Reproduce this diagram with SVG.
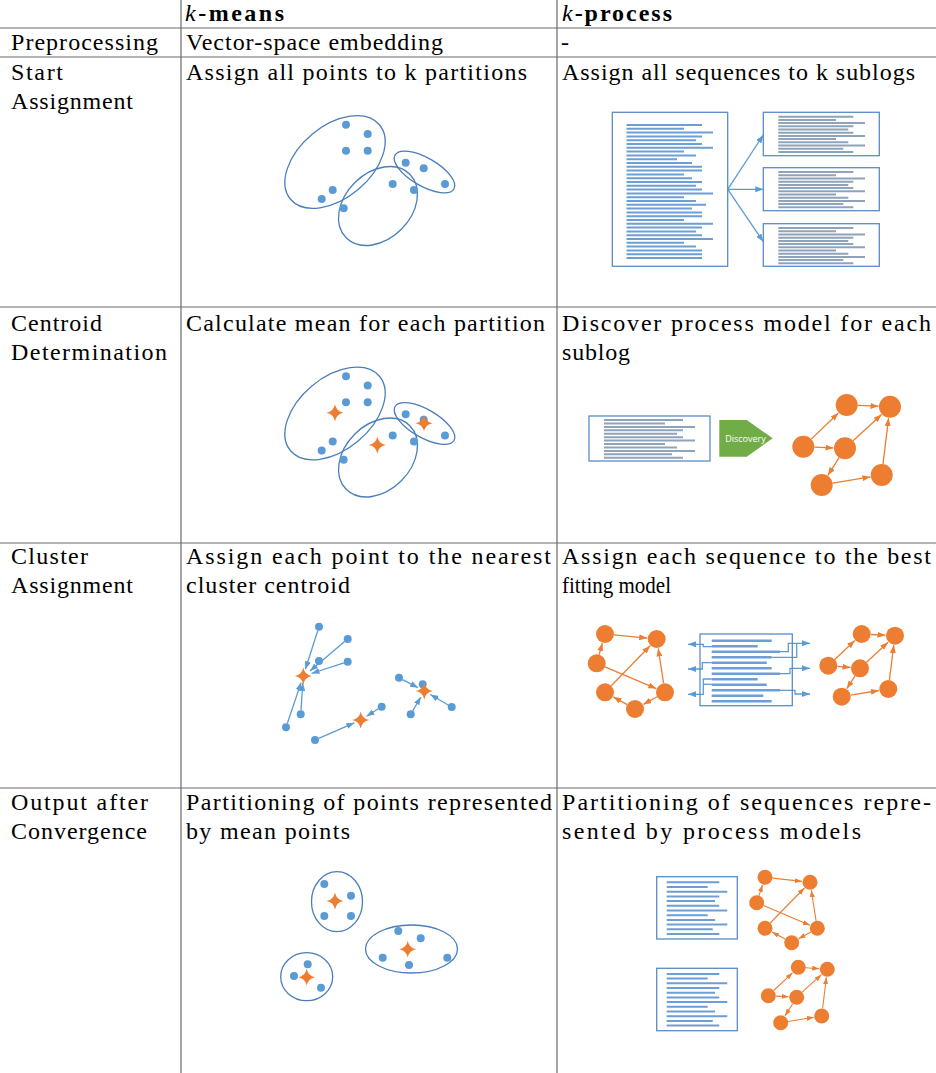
<svg xmlns="http://www.w3.org/2000/svg" xmlns:xlink="http://www.w3.org/1999/xlink" width="936" height="1073" viewBox="0 0 936 1073">
<style>
.t{font-family:"Liberation Serif","DejaVu Serif",serif;font-size:24px;fill:#000}
.grid{stroke:#6a6a6a;stroke-width:1.2;fill:none}
.dot{fill:#5B9BD5}
.ell{fill:none;stroke:#4A7EBB;stroke-width:1.3}
.star{fill:#ED7D31}
.node{fill:#ED7D31}
.oe{stroke:#ED7D31;stroke-width:1.3;fill:none;marker-end:url(#ao)}
.oes{stroke:#ED7D31;stroke-width:1.1;fill:none;marker-end:url(#aos)}
.be{stroke:#5B9BD5;stroke-width:1.3;fill:none;marker-end:url(#ab)}
.doc{fill:none;stroke:#5B8CC8;stroke-width:1.3}
.lb{stroke:#6C9FD6;stroke-width:2;fill:none}
.lg{stroke:#8FA3BA;stroke-width:2;fill:none}
.lt{stroke:#6C9FD6;stroke-width:2.6;fill:none}
</style>
<defs>
<marker id="ao" markerWidth="8" markerHeight="6" refX="8" refY="3" orient="auto" markerUnits="userSpaceOnUse"><path d="M0,0 L8,3 L0,6 z" fill="#ED7D31"/></marker>
<marker id="aos" markerWidth="7" markerHeight="5" refX="7" refY="2.5" orient="auto" markerUnits="userSpaceOnUse"><path d="M0,0 L7,2.5 L0,5 z" fill="#ED7D31"/></marker>
<marker id="ab" markerWidth="8" markerHeight="6" refX="8" refY="3" orient="auto" markerUnits="userSpaceOnUse"><path d="M0,0 L8,3 L0,6 z" fill="#5B9BD5"/></marker>
<path id="star" class="star" d="M0,-8.5 Q1.3,-1.3 8.5,0 Q1.3,1.3 0,8.5 Q-1.3,1.3 -8.5,0 Q-1.3,-1.3 0,-8.5Z"/>
<g id="kmBase">
<ellipse class="ell" cx="335" cy="162" rx="58" ry="36" transform="rotate(-40 335 162)"/>
<ellipse class="ell" cx="378" cy="206" rx="45" ry="33" transform="rotate(-45 378 206)"/>
<ellipse class="ell" cx="424.5" cy="172" rx="34" ry="14" transform="rotate(30 424.5 172)"/>
<circle class="dot" cx="346" cy="124.7" r="4"/>
<circle class="dot" cx="367.7" cy="134" r="4"/>
<circle class="dot" cx="346" cy="150.7" r="4"/>
<circle class="dot" cx="367.7" cy="150.7" r="4"/>
<circle class="dot" cx="332.7" cy="190" r="4"/>
<circle class="dot" cx="321.7" cy="199" r="4"/>
<circle class="dot" cx="343.7" cy="208.3" r="4"/>
<circle class="dot" cx="392.7" cy="184" r="4"/>
<circle class="dot" cx="414" cy="190" r="4"/>
<circle class="dot" cx="405.7" cy="162.7" r="4"/>
<circle class="dot" cx="423.7" cy="168.3" r="4"/>
<circle class="dot" cx="445" cy="184" r="4"/>
</g>
<path id="subLines" class="lg" d="M15 4.4H90M15 7.6H72.7M15 10.8H101.7M15 14H90M15 17.2H85M15 20.4H90M15 23.6H101.7M15 26.8H72.7M15 30H85M15 33.2H101.7M15 36.4H80M15 39.6H90"/>
<path id="outLines" class="lb" d="M666.7 882.3H719.3M666.7 887H707.7M666.7 891.7H727.3M666.7 896.4H719.3M666.7 901.1H715M666.7 905.8H719.3M666.7 910.5H727.3M666.7 915.2H707.7M666.7 919.9H715M666.7 924.6H727.3M666.7 929.3H712.7M666.7 934H719.3"/>
</defs>

<g id="table">
<line class="grid" x1="0" y1="28" x2="936" y2="28"/>
<line class="grid" x1="0" y1="57" x2="936" y2="57"/>
<line class="grid" x1="0" y1="307" x2="936" y2="307"/>
<line class="grid" x1="0" y1="543" x2="936" y2="543"/>
<line class="grid" x1="0" y1="788" x2="936" y2="788"/>
<line class="grid" x1="181" y1="0" x2="181" y2="1073"/>
<line class="grid" x1="557" y1="0" x2="557" y2="1073"/>
</g>

<g id="texts">
<text class="t" x="185" y="21" textLength="99" lengthAdjust="spacing"><tspan font-style="italic">k</tspan><tspan font-weight="bold">-means</tspan></text>
<text class="t" x="562" y="21" textLength="110" lengthAdjust="spacing"><tspan font-style="italic">k</tspan><tspan font-weight="bold">-process</tspan></text>
<text class="t" x="11" y="50" textLength="147" lengthAdjust="spacing">Preprocessing</text>
<text class="t" x="186" y="50" textLength="257" lengthAdjust="spacing">Vector-space embedding</text>
<text class="t" x="561" y="50">-</text>
<text class="t" x="11" y="80" textLength="52" lengthAdjust="spacing">Start</text>
<text class="t" x="11" y="109" textLength="122" lengthAdjust="spacing">Assignment</text>
<text class="t" x="186" y="80" textLength="341" lengthAdjust="spacing">Assign all points to k partitions</text>
<text class="t" x="562" y="80" textLength="353" lengthAdjust="spacing">Assign all sequences to k sublogs</text>
<text class="t" x="11" y="331" textLength="91" lengthAdjust="spacing">Centroid</text>
<text class="t" x="11" y="360" textLength="156" lengthAdjust="spacing">Determination</text>
<text class="t" x="186" y="331" textLength="359" lengthAdjust="spacing">Calculate mean for each partition</text>
<text class="t" x="562" y="331" textLength="369" lengthAdjust="spacing">Discover process model for each</text>
<text class="t" x="562" y="360" textLength="68" lengthAdjust="spacing">sublog</text>
<text class="t" x="11" y="564" textLength="77" lengthAdjust="spacing">Cluster</text>
<text class="t" x="11" y="593" textLength="122" lengthAdjust="spacing">Assignment</text>
<text class="t" x="186" y="564" textLength="365" lengthAdjust="spacing">Assign each point to the nearest</text>
<text class="t" x="186" y="593" textLength="164" lengthAdjust="spacing">cluster centroid</text>
<text class="t" x="562" y="564" textLength="369" lengthAdjust="spacing">Assign each sequence to the best</text>
<text class="t" x="562" y="593" textLength="109" lengthAdjust="spacingAndGlyphs">fitting model</text>
<text class="t" x="11" y="810" textLength="137" lengthAdjust="spacing">Output after</text>
<text class="t" x="11" y="839" textLength="136" lengthAdjust="spacing">Convergence</text>
<text class="t" x="186" y="810" textLength="366" lengthAdjust="spacing">Partitioning of points represented</text>
<text class="t" x="186" y="839" textLength="164" lengthAdjust="spacing">by mean points</text>
<text class="t" x="562" y="810" textLength="369" lengthAdjust="spacing">Partitioning of sequences repre-</text>
<text class="t" x="562" y="839" textLength="299" lengthAdjust="spacing">sented by process models</text>
</g>

<g id="connectors">
<path class="be" d="M727.7 189.3L763.3 135"/>
<path class="be" d="M727.7 189.3L763.3 189.3"/>
<path class="be" d="M727.7 189.3L763.3 241.7"/>
<path class="oe" d="M811.2 439.1L838.4 413"/>
<path class="oe" d="M857.7 405.4L878.5 406.2"/>
<path class="oe" d="M814.3 447.1L833.5 447.9"/>
<path class="oe" d="M853.1 440.8L881.6 414.5"/>
<path class="oe" d="M839.1 457.6L827.9 475.3"/>
<path class="oe" d="M832.6 483.2L870.4 476.9"/>
<path class="oe" d="M883 464.1L888.6 418.1"/>
<path class="be" d="M317.8 630.5L305.4 669.3"/>
<path class="be" d="M344.6 641.6L310 671"/>
<path class="be" d="M343.9 662.9L311.5 673.5"/>
<path class="be" d="M287.3 723.5L301.1 682.6"/>
<path class="be" d="M301 710.3L302.8 683"/>
<path class="be" d="M318.7 738.4L354.3 722.8"/>
<path class="be" d="M378.3 708.8L366.6 716.3"/>
<path class="be" d="M402.5 679.6L418.1 687.7"/>
<path class="be" d="M412.7 710.8L420.8 697"/>
<path class="be" d="M448.2 705L430.3 694.5"/>
<path class="oe" d="M614 634.9L647.2 638.1"/>
<path class="oe" d="M599.1 654.7L602.4 643.1"/>
<path class="oe" d="M605 666.8L656.3 688.6"/>
<path class="oe" d="M611.3 685.8L650.1 645.8"/>
<path class="oe" d="M663.6 683.4L658.2 648.4"/>
<path class="oe" d="M657.1 696.7L643.3 704.4"/>
<path class="oe" d="M627.1 704.6L613.3 696.9"/>
<path class="oe" d="M834.8 659.5L854.8 640.5"/>
<path class="oe" d="M870.7 634.5L885.5 635.2"/>
<path class="oe" d="M837.3 666.4L850.5 667.5"/>
<path class="oe" d="M866.6 662.2L888 642.2"/>
<path class="oe" d="M855.1 675.9L846.8 688.7"/>
<path class="oe" d="M850.6 695.2L878.9 690.5"/>
<path class="oe" d="M889.4 680.1L893.8 645.1"/>
<path class="be" d="M711.7 646.7H703.3V644.3H688"/>
<path class="be" d="M711.7 662.7H702.3V669H688"/>
<path class="be" d="M711.7 679H703.3V694.3H688"/>
<path class="be" d="M711.7 684.3H703.3" style="marker-end:none"/>
<path class="be" d="M780 651.7H788.3V643.3H810"/>
<path class="be" d="M771.7 657.3H796.7V643.3" style="marker-end:none"/>
<path class="be" d="M780 673.7H790V668.3H810"/>
<path class="be" d="M780 690.3H795V694H810"/>
<path class="oes" d="M772.5 878.1L802 881.4"/>
<path class="oes" d="M759 895.6L762.5 884.9"/>
<path class="oes" d="M763.6 905.6L809.9 925.2"/>
<path class="oes" d="M770.2 923L804.4 888"/>
<path class="oes" d="M816.1 920.9L811.3 890.2"/>
<path class="oes" d="M810.8 932L798.6 938.8"/>
<path class="oes" d="M785.1 939.1L772 932.1"/>
<path class="oes" d="M773.7 990.5L792.5 972.8"/>
<path class="oes" d="M805.8 967.8L819.3 968.7"/>
<path class="oes" d="M775.8 996.1L788.7 996.8"/>
<path class="oes" d="M802.2 992.2L821.4 974.7"/>
<path class="oes" d="M792.7 1003.7L785 1015.9"/>
<path class="oes" d="M788.1 1021.5L813.8 1017.3"/>
<path class="oes" d="M822.6 1008.5L826.4 977.3"/>
</g>

<g id="km-start"><use xlink:href="#kmBase"/></g>

<g id="km-centroid">
<use xlink:href="#kmBase" y="251.5"/>
<use xlink:href="#star" x="335" y="412.7"/>
<use xlink:href="#star" x="377.3" y="445"/>
<use xlink:href="#star" x="424" y="423.3"/>
</g>

<g id="km-cluster">
<circle class="dot" cx="319" cy="626.7" r="4"/>
<circle class="dot" cx="347.7" cy="639" r="4"/>
<circle class="dot" cx="319" cy="661" r="4"/>
<circle class="dot" cx="347.7" cy="661.7" r="4"/>
<circle class="dot" cx="300.7" cy="714.3" r="4"/>
<circle class="dot" cx="286" cy="727.3" r="4"/>
<circle class="dot" cx="315" cy="740" r="4"/>
<circle class="dot" cx="399" cy="677.7" r="4"/>
<circle class="dot" cx="422.7" cy="684.3" r="4"/>
<circle class="dot" cx="451.7" cy="707" r="4"/>
<circle class="dot" cx="410.7" cy="714.3" r="4"/>
<circle class="dot" cx="381.7" cy="706.7" r="4"/>
<use xlink:href="#star" x="303.3" y="676"/>
<use xlink:href="#star" x="360.7" y="720"/>
<use xlink:href="#star" x="424.3" y="691"/>
</g>

<g id="km-output">
<ellipse class="ell" cx="337" cy="901.7" rx="25.5" ry="30"/>
<ellipse class="ell" cx="411.5" cy="949" rx="46" ry="24"/>
<ellipse class="ell" cx="306.7" cy="976.7" rx="26" ry="24"/>
<circle class="dot" cx="324.3" cy="884" r="4"/>
<circle class="dot" cx="351" cy="895.7" r="4"/>
<circle class="dot" cx="324.3" cy="916" r="4"/>
<circle class="dot" cx="351" cy="916" r="4"/>
<use xlink:href="#star" x="335" y="901"/>
<circle class="dot" cx="398.3" cy="931" r="4"/>
<circle class="dot" cx="420.7" cy="938.3" r="4"/>
<circle class="dot" cx="382.7" cy="957.7" r="4"/>
<circle class="dot" cx="409" cy="965" r="4"/>
<circle class="dot" cx="447.3" cy="957.7" r="4"/>
<use xlink:href="#star" x="407.7" y="949.3"/>
<circle class="dot" cx="307.7" cy="964.3" r="4"/>
<circle class="dot" cx="294" cy="976" r="4"/>
<circle class="dot" cx="321" cy="987.7" r="4"/>
<use xlink:href="#star" x="306.7" y="977.3"/>
</g>

<g id="kp-log">
<rect class="doc" x="612.3" y="112.3" width="115.4" height="154"/>
<path class="lb" d="M626.5 125H702M626.5 128.8H684M626.5 132.6H713M626.5 136.4H702M626.5 140.2H696M626.5 144H702M626.5 147.8H713M626.5 151.6H684M626.5 155.4H696M626.5 159.2H677M626.5 163H692M626.5 166.8H702M626.5 170.6H702M626.5 174.4H684M626.5 178.2H692M626.5 182H702M626.5 185.8H696M626.5 189.6H702M626.5 193.4H713M626.5 197.2H684M626.5 201H696M626.5 204.8H706M626.5 208.6H692M626.5 212.4H702M626.5 216.2H702M626.5 220H684M626.5 223.8H713M626.5 227.6H702M626.5 231.4H696M626.5 235.2H702M626.5 239H713M626.5 242.8H684M626.5 246.6H696M626.5 250.4H702M626.5 254.2H702M626.5 258H702"/>
</g>
<g id="kp-sublog1" transform="translate(763.3 112.3)"><rect class="doc" width="116" height="43.4"/><use xlink:href="#subLines"/></g>
<g id="kp-sublog2" transform="translate(763.3 167.7)"><rect class="doc" width="116" height="43"/><use xlink:href="#subLines"/></g>
<g id="kp-sublog3" transform="translate(763.3 223.7)"><rect class="doc" width="116" height="42.6"/><use xlink:href="#subLines"/></g>

<g id="kp-disc-log">
<rect class="doc" x="589" y="416" width="121" height="45"/>
<path class="lg" d="M604 420H683M604 423.4H665M604 426.9H695M604 430.3H683M604 433.7H677M604 437.2H683M604 440.6H695M604 444H665M604 447.4H677M604 450.9H695M604 454.3H672M604 457.7H683"/>
</g>
<g id="kp-discovery">
<polygon points="719.3,420 746.7,420 772.7,438.3 746.7,456.7 719.3,456.7" fill="#70AD47"/>
<text x="745.5" y="441.8" text-anchor="middle" font-family="'Open Sans','Liberation Sans',sans-serif" font-size="9" fill="#fff">Discovery</text>
</g>
<g id="kp-disc-model">
<circle class="node" cx="846.7" cy="405" r="11"/>
<circle class="node" cx="890" cy="406.7" r="11"/>
<circle class="node" cx="803.3" cy="446.7" r="11"/>
<circle class="node" cx="845" cy="448.3" r="11"/>
<circle class="node" cx="821.7" cy="485" r="11"/>
<circle class="node" cx="881.7" cy="475" r="11"/>
</g>

<g id="kp-cl-model1">
<circle class="node" cx="605" cy="634" r="9"/>
<circle class="node" cx="656.7" cy="639" r="9"/>
<circle class="node" cx="596.7" cy="663.3" r="9"/>
<circle class="node" cx="605" cy="692.3" r="9"/>
<circle class="node" cx="665" cy="692.3" r="9"/>
<circle class="node" cx="635" cy="709" r="9"/>
</g>
<g id="kp-cl-log">
<rect class="doc" x="700" y="634" width="92.3" height="71.7"/>
<path class="lt" d="M711.7 640.7H771.7M711.7 646.2H757.7M711.7 651.7H780M711.7 657.2H771.7M711.7 662.7H766.7M711.7 668.2H771.7M711.7 673.7H780M711.7 679.2H757.7M711.7 684.7H766.7M711.7 690.2H780M711.7 695.7H763.3M711.7 701.2H771.7"/>
</g>
<g id="kp-cl-model2">
<circle class="node" cx="861.7" cy="634" r="9"/>
<circle class="node" cx="895" cy="635.7" r="9"/>
<circle class="node" cx="828.3" cy="665.7" r="9"/>
<circle class="node" cx="860" cy="668.3" r="9"/>
<circle class="node" cx="841.7" cy="696.7" r="9"/>
<circle class="node" cx="888.3" cy="689" r="9"/>
</g>

<g id="kp-out-log1">
<rect class="doc" x="656.7" y="876.7" width="80.6" height="62.3"/>
<use xlink:href="#outLines"/>
</g>
<g id="kp-out-log2">
<rect class="doc" x="656.7" y="968.3" width="80.6" height="62.4"/>
<use xlink:href="#outLines" y="91.6"/>
</g>
<g id="kp-out-model1">
<circle class="node" cx="765" cy="877.3" r="7.5"/>
<circle class="node" cx="810" cy="882.3" r="7.5"/>
<circle class="node" cx="756.7" cy="902.7" r="7.5"/>
<circle class="node" cx="765" cy="928.3" r="7.5"/>
<circle class="node" cx="817.3" cy="928.3" r="7.5"/>
<circle class="node" cx="791.7" cy="942.7" r="7.5"/>
</g>
<g id="kp-out-model2">
<circle class="node" cx="798.3" cy="967.3" r="7.5"/>
<circle class="node" cx="827.3" cy="969.3" r="7.5"/>
<circle class="node" cx="768.3" cy="995.7" r="7.5"/>
<circle class="node" cx="796.7" cy="997.3" r="7.5"/>
<circle class="node" cx="780.7" cy="1022.7" r="7.5"/>
<circle class="node" cx="821.7" cy="1016" r="7.5"/>
</g>
</svg>
